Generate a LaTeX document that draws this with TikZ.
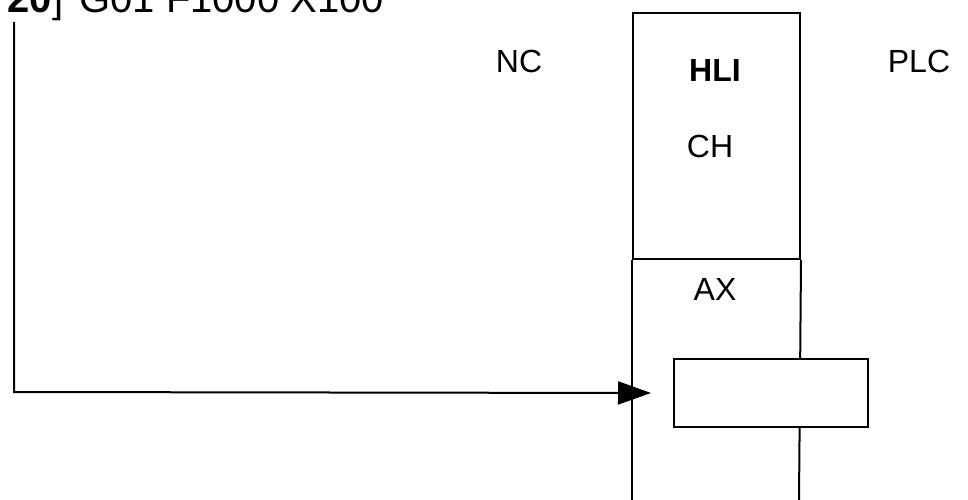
\documentclass[tikz,border=0pt]{standalone}
\usepackage{fontspec}
\setmainfont{Liberation Sans}
\usetikzlibrary{arrows.meta,positioning}

\begin{document}
\begin{tikzpicture}[x=1pt,y=-1pt,line width=2pt,
  lbl/.style={inner sep=0pt,font=\fontsize{32}{38}\selectfont},
  tip/.style={-{Triangle[length=33pt,width=23pt]}}]
  \useasboundingbox (0,0) rectangle (968,500);
  \clip (0,0) rectangle (968,500);
  % program line at top (cut by the page edge)
  \node[inner sep=0pt, anchor=base east, font=\fontsize{40}{48}\selectfont] (prog) at (385,13) {\textbf{20}]\hspace{5pt} G01 F1000 X100};
  % column: HLI channel part and axis part
  \node[draw, rectangle, inner sep=0pt, minimum width=167pt, minimum height=246pt, anchor=north west] (hli) at (632,12) {};
  \coordinate (axbl) at (632,500);
  \coordinate (axbr) at (799,500);
  \draw (hli.south west) -- (axbl);
  \draw (hli.south east) -- (axbr);
  % box on the axis
  \node[draw, fill=white, rectangle, inner sep=0pt, minimum width=194pt, minimum height=68pt, anchor=north west] (axbox) at (673,358) {};
  % labels
  \node[lbl, anchor=base] (nc) at (519,73) {NC};
  \node[lbl, anchor=base] (plc) at (919,73) {PLC};
  \node[lbl, anchor=base, font=\fontsize{32}{38}\selectfont\bfseries] (hlit) at (715,82) {HLI};
  \node[lbl, anchor=base] (ch) at (710,157) {CH};
  \node[lbl, anchor=base] (ax) at (715,300) {AX};
  % arrow from program line to the axis box
  \coordinate (start) at (14,22);
  \coordinate (bend) at (14,392);
  \coordinate (tgt) at ([xshift=-22pt]axbox.west);
  \draw[tip] (start) -- (bend) -- (tgt);
\end{tikzpicture}
\end{document}
